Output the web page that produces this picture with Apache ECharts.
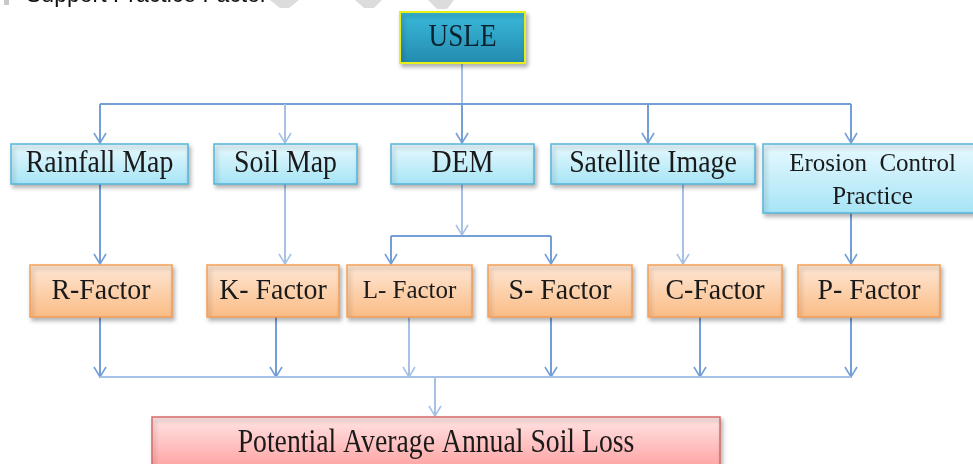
<!DOCTYPE html>
<html>
<head>
<meta charset="utf-8">
<script src="https://cdn.jsdelivr.net/npm/echarts@6/dist/echarts.min.js"></script>
<style>
html,body{margin:0;padding:0;background:#fff;}
#chart{width:973px;height:464px;}
</style>
</head>
<body>
<div id="chart"></div>
<script>
// ---- text content ----
const headerLabel = ['Support Practice Factor'];
const rootLabel = ['USLE'];
const sourceLabels = ['Rainfall Map', 'Soil Map', 'DEM', 'Satellite Image', 'Erosion  Control\nPractice'];
const factorLabels = ['R-Factor', 'K- Factor', 'L- Factor', 'S- Factor', 'C-Factor', 'P- Factor'];
const resultLabel = ['Potential Average Annual Soil Loss'];

// ---- layout (diagram units = pixels of the 973x464 canvas) ----
const rootBox = [[400, 12, 525, 63]];
const sourceBoxes = [[11, 144, 188, 184], [214, 144, 357, 184], [391, 144, 534, 184], [551, 144, 755, 184], [763, 144, 976, 213]];
const factorBoxes = [[30, 265, 172, 317], [207, 265, 339, 317], [347, 265, 472, 317], [488, 265, 632, 317], [648, 265, 782, 317], [798, 265, 940, 317]];
const resultBox = [[152, 417, 720, 472]];

const sourceFont = [[32, 0.87], [32, 0.87], [32, 0.87], [32, 0.87], [25, 1.0, 3, 2]];
const factorFont = [[30, 0.93], [30, 0.93], [25, 1.0], [30, 0.93], [30, 0.93], [30, 0.93]];

const C1 = '#739fd6', C2 = '#a7c1e6';
const connectors = [
  {pts: [[462, 63], [462, 104]], arrow: false, c: C2},
  {pts: [[100, 104], [851, 104]], arrow: false, c: C1},
  {pts: [[100, 104], [100, 143]], arrow: true, c: C1},
  {pts: [[285, 104], [285, 143]], arrow: true, c: C2},
  {pts: [[462, 104], [462, 143]], arrow: true, c: C1},
  {pts: [[648, 104], [648, 143]], arrow: true, c: C1},
  {pts: [[851, 104], [851, 143]], arrow: true, c: C1},
  {pts: [[100, 184], [100, 264]], arrow: true, c: C1},
  {pts: [[285, 184], [285, 264]], arrow: true, c: C2},
  {pts: [[462, 184], [462, 235]], arrow: true, c: C2},
  {pts: [[391, 236], [551, 236]], arrow: false, c: C1},
  {pts: [[391, 236], [391, 264]], arrow: true, c: C1},
  {pts: [[551, 236], [551, 264]], arrow: true, c: C1},
  {pts: [[683, 184], [683, 264]], arrow: true, c: C2},
  {pts: [[851, 213], [851, 264]], arrow: true, c: C1},
  {pts: [[100, 317], [100, 377]], arrow: true, c: C1},
  {pts: [[276, 317], [276, 377]], arrow: true, c: C1},
  {pts: [[409, 317], [409, 377]], arrow: true, c: C2},
  {pts: [[551, 317], [551, 377]], arrow: true, c: C1},
  {pts: [[700, 317], [700, 377]], arrow: true, c: C1},
  {pts: [[851, 317], [851, 377]], arrow: true, c: C1},
  {pts: [[100, 377], [851, 377]], arrow: false, c: C2},
  {pts: [[435, 377], [435, 416]], arrow: true, c: C2}
];

const watermark = [
  [[270, 0], [299, 0], [289, 8], [280, 8]],
  [[355, 0], [382, 0], [374, 8], [364, 8]],
  [[428, 0], [454, 0], [447, 9], [437, 9]]
];

const chart = echarts.init(document.getElementById('chart'), null, {renderer: 'canvas'});

function grad(top, bottom) {
  return new echarts.graphic.LinearGradient(0, 0, 0, 1, [
    {offset: 0, color: top}, {offset: 1, color: bottom}
  ]);
}

const styles = {
  root: {top: '#3bbadb', bottom: '#238aae', stroke: '#e6ef1a', lw: 2, color: '#0d2230'},
  source: {top: '#e8f9fe', bottom: '#a6e4f6', stroke: '#55b5d9', lw: 1.5, color: '#1a1a1a'},
  factor: {top: '#fee8d6', bottom: '#fbbb84', stroke: '#f3a058', lw: 1.5, color: '#1a1a1a'},
  result: {top: '#ffe6e6', bottom: '#ff9c9c', stroke: '#d66a6a', lw: 1.5, color: '#1a1a1a'}
};

function boxSeries(boxes, labels, st, fonts) {
  return {
    type: 'custom',
    coordinateSystem: 'cartesian2d',
    clip: false,
    silent: true,
    data: boxes.map(b => [b[0], b[1]]),
    renderItem: function (params, api) {
      const i = params.dataIndex;
      const b = boxes[i];
      const p1 = api.coord([b[0], b[1]]);
      const p2 = api.coord([b[2], b[3]]);
      const f = fonts[i];
      const cx = (p1[0] + p2[0]) / 2 + (f[2] || 0);
      const cy = (p1[1] + p2[1]) / 2 + (f[3] || 0);
      return {
        type: 'group',
        children: [
          {
            type: 'rect',
            shape: {x: p1[0], y: p1[1], width: p2[0] - p1[0], height: p2[1] - p1[1]},
            style: {
              fill: grad(st.top, st.bottom), stroke: st.stroke, lineWidth: st.lw,
              shadowBlur: 4, shadowOffsetX: 2, shadowOffsetY: 3, shadowColor: 'rgba(0,0,0,0.28)'
            }
          },
          {
            type: 'text',
            x: cx, y: cy, scaleX: f[1],
            style: {
              text: labels[i], align: 'center', verticalAlign: 'middle',
              fontSize: f[0], fontFamily: '"Liberation Serif", "Times New Roman", serif',
              lineHeight: 33, fill: st.color
            }
          }
        ]
      };
    }
  };
}

const connectorSeries = {
  type: 'custom',
  coordinateSystem: 'cartesian2d',
  clip: false,
  silent: true,
  z: 1,
  data: connectors.map(c => c.pts[0]),
  renderItem: function (params, api) {
    const c = connectors[params.dataIndex];
    const pts = c.pts.map(p => api.coord(p));
    const children = [{
      type: 'polyline', shape: {points: pts},
      style: {stroke: c.c, lineWidth: 2, fill: null}
    }];
    if (c.arrow) {
      const t = pts[pts.length - 1];
      children.push({
        type: 'polyline',
        shape: {points: [[t[0] - 6, t[1] - 10], [t[0], t[1]], [t[0] + 6, t[1] - 10]]},
        style: {stroke: c.c, lineWidth: 1.6, fill: null}
      });
    }
    return {type: 'group', children: children};
  }
};

const watermarkSeries = {
  type: 'custom',
  coordinateSystem: 'cartesian2d',
  clip: false,
  silent: true,
  z: 0,
  data: watermark.map(w => w[0]),
  renderItem: function (params, api) {
    const w = watermark[params.dataIndex];
    return {
      type: 'polygon',
      shape: {points: w.map(p => api.coord(p))},
      style: {fill: '#dcdcdc'}
    };
  }
};

const headerSeries = {
  type: 'custom',
  coordinateSystem: 'cartesian2d',
  clip: false,
  silent: true,
  data: [[26, 0]],
  renderItem: function (params, api) {
    const p = api.coord([26, -4]);
    const m = api.coord([4, 0]);
    const m2 = api.coord([9, 5]);
    return {
      type: 'group',
      children: [
        {type: 'rect', shape: {x: m[0], y: m[1], width: m2[0] - m[0], height: m2[1] - m[1]}, style: {fill: '#c8c8c8'}},
        {
          type: 'text', x: p[0], y: p[1],
          style: {
            text: headerLabel[0], align: 'left', verticalAlign: 'middle',
            fontSize: 23, fontFamily: '"Liberation Sans", Arial, sans-serif', fill: '#111'
          }
        }
      ]
    };
  }
};

chart.setOption({
  animation: false,
  backgroundColor: '#ffffff',
  grid: {left: 0, right: 0, top: 0, bottom: 0},
  xAxis: {type: 'value', min: 0, max: 973, show: false},
  yAxis: {type: 'value', min: 0, max: 464, inverse: true, show: false},
  series: [
    watermarkSeries,
    headerSeries,
    connectorSeries,
    boxSeries(rootBox, rootLabel, styles.root, [[32, 0.85]]),
    boxSeries(sourceBoxes, sourceLabels, styles.source, sourceFont),
    boxSeries(factorBoxes, factorLabels, styles.factor, factorFont),
    boxSeries(resultBox, resultLabel, styles.result, [[33, 0.84, 0, -1]])
  ]
});
</script>
</body>
</html>
